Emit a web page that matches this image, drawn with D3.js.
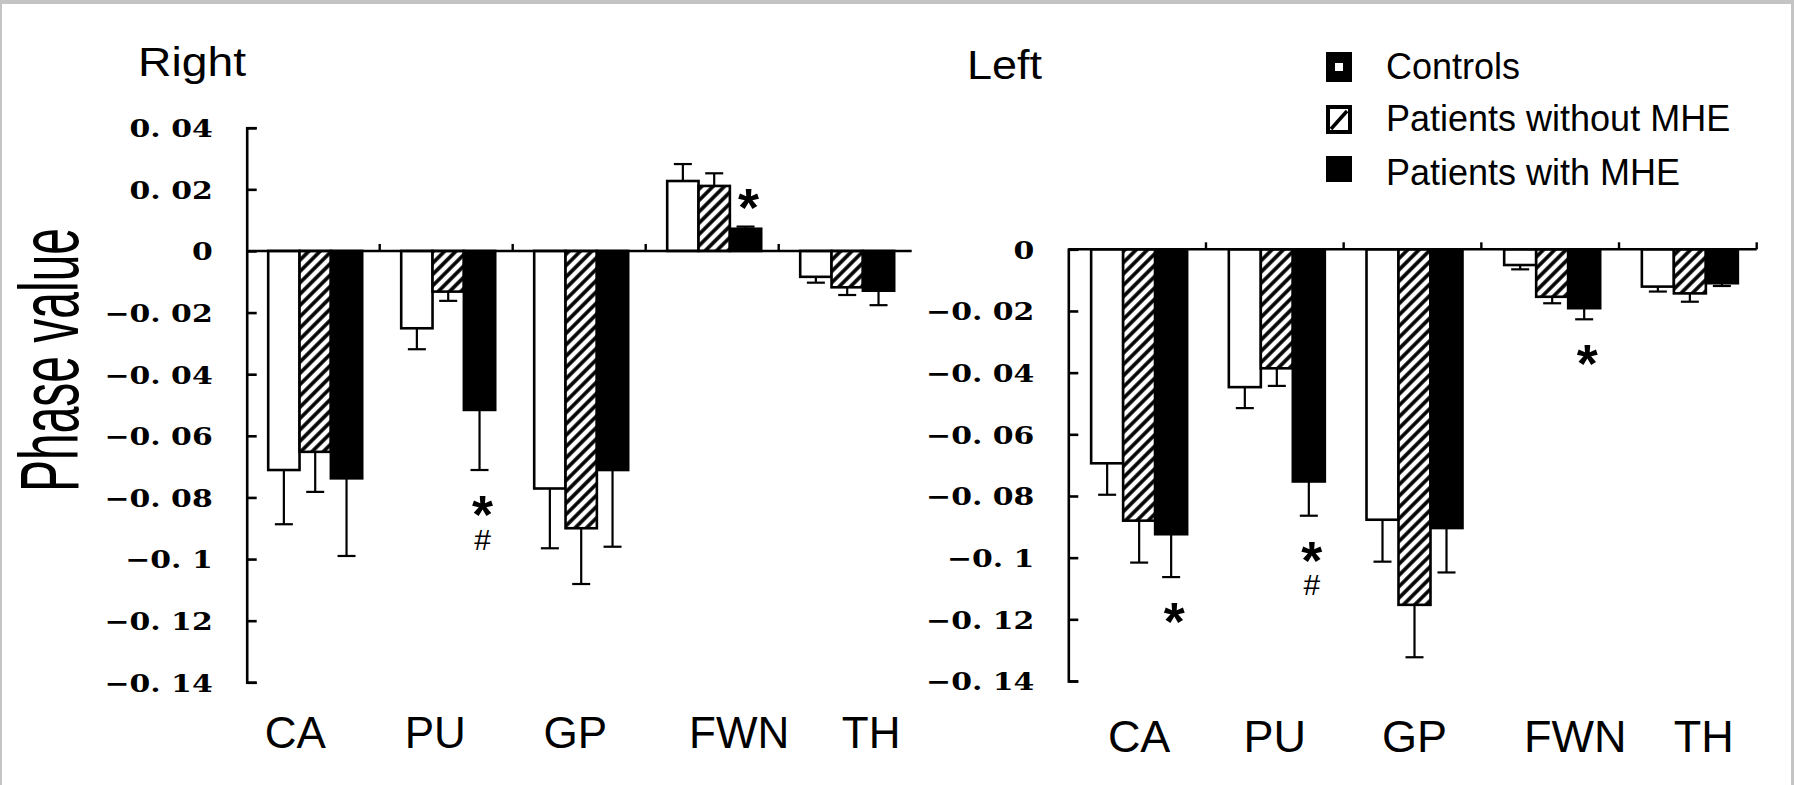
<!DOCTYPE html>
<html>
<head>
<meta charset="utf-8">
<script src="https://cdn.jsdelivr.net/npm/d3@7"></script>
<style>
  html, body { margin: 0; padding: 0; background: #fff; }
  svg { display: block; }
</style>
</head>
<body>
<svg id="chart" width="1794" height="785"></svg>
<script>
// ---------------- DATA ----------------
const categories = ["CA", "PU", "GP", "FWN", "TH"];
const series = ["Controls", "Patients without MHE", "Patients with MHE"];

// Right hemisphere
const rightControls    = [-0.0711, -0.0251, -0.0771,  0.0227, -0.0084];
const rightControlsErr = [ 0.0176,  0.0068,  0.0194,  0.0055,  0.0019];
const rightWithout     = [-0.0652, -0.0132, -0.0900,  0.0211, -0.0118];
const rightWithoutErr  = [ 0.0130,  0.0030,  0.0181,  0.0041,  0.0025];
const rightWith        = [-0.0738, -0.0516, -0.0711,  0.0072, -0.0129];
const rightWithErr     = [ 0.0252,  0.0195,  0.0249,  0.0007,  0.0047];

// Left hemisphere
const leftControls     = [-0.0694, -0.0447, -0.0877, -0.0051, -0.0121];
const leftControlsErr  = [ 0.0102,  0.0068,  0.0136,  0.0014,  0.0016];
const leftWithout      = [-0.0880, -0.0386, -0.1153, -0.0154, -0.0143];
const leftWithoutErr   = [ 0.0136,  0.0057,  0.0170,  0.0021,  0.0027];
const leftWith         = [-0.0924, -0.0753, -0.0904, -0.0191, -0.0110];
const leftWithErr      = [ 0.0139,  0.0111,  0.0144,  0.0036,  0.0009];

// Tick values / labels
const rightTicks = [0.04, 0.02, 0, -0.02, -0.04, -0.06, -0.08, -0.1, -0.12, -0.14];
const rightTickLabels = ["0. 04", "0. 02", "0", "\u22120. 02", "\u22120. 04", "\u22120. 06", "\u22120. 08", "\u22120. 1", "\u22120. 12", "\u22120. 14"];
const leftTicks = [0, -0.02, -0.04, -0.06, -0.08, -0.1, -0.12, -0.14];
const leftTickLabels = ["0", "\u22120. 02", "\u22120. 04", "\u22120. 06", "\u22120. 08", "\u22120. 1", "\u22120. 12", "\u22120. 14"];

// Significance marks (category, series index, symbols)
const rightMarks = [{cat: "PU", s: 2, sym: ["*", "#"]}, {cat: "FWN", s: 2, sym: ["*"]}];
const leftMarks  = [{cat: "CA", s: 2, sym: ["*"]}, {cat: "PU", s: 2, sym: ["*", "#"]}, {cat: "FWN", s: 2, sym: ["*"]}];

// ---------------- LAYOUT ----------------
const svg = d3.select("#chart");
const SANS = "'Liberation Sans', Arial, sans-serif";

// frame
svg.append("rect").attr("x", 0).attr("y", 0).attr("width", 1794).attr("height", 785).attr("fill", "#c4c4c4");
svg.append("rect").attr("x", 2).attr("y", 4).attr("width", 1789).attr("height", 781).attr("fill", "#fff");

const defs = svg.append("defs");
const pat = defs.append("pattern").attr("id", "hatch").attr("patternUnits", "userSpaceOnUse")
  .attr("width", 8).attr("height", 8).attr("patternTransform", "rotate(45)");
pat.append("rect").attr("width", 8).attr("height", 8).attr("fill", "#fff");
pat.append("line").attr("x1", 4).attr("y1", -1).attr("x2", 4).attr("y2", 9).attr("stroke", "#000").attr("stroke-width", 3.6);

const fills = ["#fff", "url(#hatch)", "#000"];

function drawPanel(cfg) {
  const g = svg.append("g");
  const x0 = d3.scaleBand().domain(categories).range(cfg.xRange).padding(0);
  const bw = x0.bandwidth();
  const x1 = d3.scaleBand().domain(d3.range(series.length))
    .range([(bw - cfg.group) / 2 + 2, (bw + cfg.group) / 2 + 2]);
  const y = d3.scaleLinear().domain(cfg.yDomain).range(cfg.yRange);

  // bars
  cfg.values.forEach((vals, s) => {
    g.append("g").selectAll("rect").data(vals).join("rect")
      .attr("x", (d, i) => x0(categories[i]) + x1(s))
      .attr("width", x1.bandwidth())
      .attr("y", d => Math.min(y(d), y(0)))
      .attr("height", d => Math.abs(y(d) - y(0)))
      .attr("fill", fills[s])
      .attr("stroke", "#000").attr("stroke-width", 2.6);
  });

  // y axis
  const yAxis = d3.axisLeft(y).tickValues(cfg.ticks).tickSize(-10)
    .tickFormat((d, i) => cfg.tickLabels[i]);
  g.append("g").attr("transform", `translate(${cfg.xRange[0]},0)`).call(yAxis)
    .call(a => a.select(".domain").attr("stroke-width", 2.6))
    .call(a => a.selectAll(".tick line").attr("stroke-width", 2.6))
    .call(a => a.selectAll(".tick text")
      .attr("x", null).attr("dy", "0.36em")
      .attr("transform", "translate(-34,0) scale(1.22,1)")
      .attr("text-anchor", "end")
      .attr("fill", "#000")
      .style("font-family", "'DejaVu Serif', serif")
      .style("font-weight", "bold")
      .style("font-size", "24.5px"));

  // zero line + boundary ticks
  const y0 = y(0);
  g.append("line").attr("x1", cfg.xRange[0]).attr("x2", cfg.xRange[1])
    .attr("y1", y0).attr("y2", y0).attr("stroke", "#000").attr("stroke-width", 2.6);
  const bounds = categories.slice(1).map(c => x0(c));
  if (cfg.endTick) bounds.push(cfg.xRange[1]);
  g.append("g").selectAll("line").data(bounds).join("line")
    .attr("x1", d => d).attr("x2", d => d).attr("y1", y0).attr("y2", y0 - 7)
    .attr("stroke", "#000").attr("stroke-width", 2.4);

  // error bars
  cfg.values.forEach((vals, s) => {
    const errs = cfg.errs[s];
    const eg = g.append("g").attr("stroke", "#000").attr("stroke-width", 2.2);
    vals.forEach((v, i) => {
      const cx = x0(categories[i]) + x1(s) + x1.bandwidth() / 2;
      const end = v < 0 ? v - errs[i] : v + errs[i];
      eg.append("line").attr("x1", cx).attr("x2", cx).attr("y1", y(v)).attr("y2", y(end));
      eg.append("line").attr("x1", cx - 9).attr("x2", cx + 9).attr("y1", y(end)).attr("y2", y(end));
    });
  });

  // significance marks: one text element per mark group, symbols stacked as tspans
  cfg.marks.forEach(m => {
    const i = categories.indexOf(m.cat);
    const v = cfg.values[m.s][i], e = cfg.errs[m.s][i];
    const end = v < 0 ? v - e : v + e;
    const dir = v < 0 ? 1 : -1;
    const cx = x0(m.cat) + x1(m.s) + x1.bandwidth() / 2 + 3;
    const cy = y(end) + dir * 32;
    const t = g.append("text").attr("text-anchor", "middle").style("font-family", SANS);
    m.sym.forEach((sym, k) => {
      const c = cy + dir * k * 37;
      if (sym === "*") {
        t.append("tspan").attr("x", cx).attr("y", c + 31)
          .style("font-weight", "bold").style("font-size", "54px").text(sym);
      } else {
        t.append("tspan").attr("x", cx).attr("y", c + 10.5)
          .style("font-size", "30px").text(sym);
      }
    });
  });

  // category labels
  g.append("g").selectAll("text").data(categories).join("text")
    .attr("x", (d, i) => x0(d) + bw / 2 + cfg.labelNudge[i])
    .attr("y", cfg.labelY)
    .attr("text-anchor", "middle")
    .style("font-family", SANS).style("font-size", cfg.labelSize + "px")
    .text(d => d);

  // panel title
  g.append("text").attr("x", cfg.title.x).attr("y", cfg.title.y)
    .attr("textLength", cfg.title.len).attr("lengthAdjust", "spacingAndGlyphs")
    .style("font-family", SANS).style("font-size", "40px").text(cfg.title.text);
}

drawPanel({
  xRange: [246.7, 911.7], group: 94,
  yDomain: [0.04, -0.14], yRange: [127.7, 682.3],
  ticks: rightTicks, tickLabels: rightTickLabels,
  values: [rightControls, rightWithout, rightWith],
  errs: [rightControlsErr, rightWithoutErr, rightWithErr],
  marks: rightMarks, endTick: false,
  labelNudge: [-18, -11, -4, 27, 26], labelY: 748, labelSize: 44,
  title: {text: "Right", x: 138, y: 75.5, len: 108}
});

drawPanel({
  xRange: [1068.3, 1756.7], group: 96,
  yDomain: [0, -0.14], yRange: [249.3, 681],
  ticks: leftTicks, tickLabels: leftTickLabels,
  values: [leftControls, leftWithout, leftWith],
  errs: [leftControlsErr, leftWithoutErr, leftWithErr],
  marks: leftMarks, endTick: true,
  labelNudge: [2, 0, 2, 25, 16], labelY: 752, labelSize: 45,
  title: {text: "Left", x: 967, y: 79, len: 75}
});

// y-axis title
svg.append("text")
  .attr("transform", "translate(78,360) rotate(-90)")
  .attr("text-anchor", "middle")
  .attr("textLength", 264).attr("lengthAdjust", "spacingAndGlyphs")
  .style("font-family", SANS).style("font-size", "84px")
  .text("Phase value");

// legend
const leg = svg.append("g").attr("transform", "translate(1326,0)");
const rowsY = [52, 105, 156];
const baseY = [78.5, 130.5, 184.5];
series.forEach((name, i) => {
  const r = leg.append("g");
  if (i === 0) {
    r.append("rect").attr("x", 0).attr("y", rowsY[i]).attr("width", 26).attr("height", 30).attr("fill", "#000");
    r.append("rect").attr("x", 9).attr("y", rowsY[i] + 11).attr("width", 8).attr("height", 8).attr("fill", "#fff");
  } else if (i === 1) {
    r.append("rect").attr("x", 2).attr("y", rowsY[i] + 2).attr("width", 22).attr("height", 25)
      .attr("fill", "#fff").attr("stroke", "#000").attr("stroke-width", 4);
    r.append("line").attr("x1", 5).attr("y1", rowsY[i] + 24).attr("x2", 21).attr("y2", rowsY[i] + 6)
      .attr("stroke", "#000").attr("stroke-width", 3.5);
  } else {
    r.append("rect").attr("x", 0).attr("y", rowsY[i]).attr("width", 26).attr("height", 26).attr("fill", "#000");
  }
  r.append("text").attr("x", 60).attr("y", baseY[i])
    .style("font-family", SANS).style("font-size", "36px").text(name);
});
</script>
</body>
</html>
